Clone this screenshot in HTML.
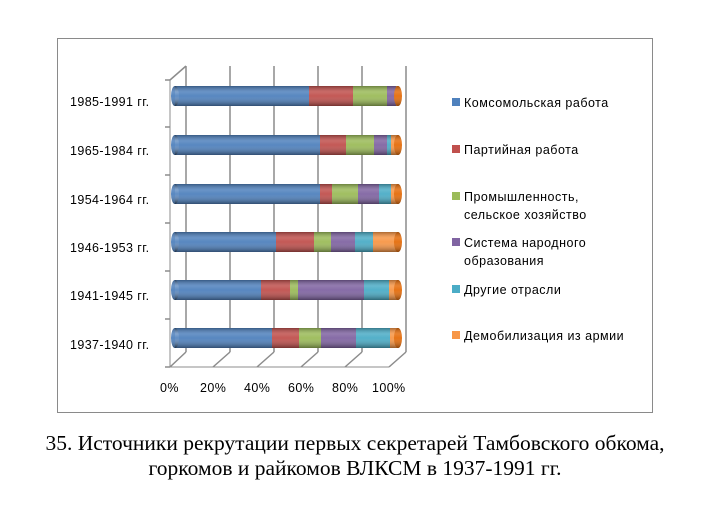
<!DOCTYPE html>
<html><head><meta charset="utf-8"><style>
body{margin:0;background:#fff;width:711px;height:508px;overflow:hidden}
svg{display:block}
text{font-family:"Liberation Sans","DejaVu Sans",sans-serif;font-size:12.5px;fill:#000}
</style></head><body>
<svg width="711" height="508" viewBox="0 0 711 508">
<defs>
<linearGradient id="sh" x1="0" y1="0" x2="0" y2="1">
<stop offset="0" stop-color="#000" stop-opacity="0.3"/>
<stop offset="0.3" stop-color="#fff" stop-opacity="0.15"/>
<stop offset="0.5" stop-color="#fff" stop-opacity="0.05"/>
<stop offset="1" stop-color="#000" stop-opacity="0.4"/>
</linearGradient>
</defs>
<rect x="57.5" y="38.5" width="595" height="374" fill="#fff" stroke="#8a8a8a"/>
<g stroke="#8c8c8c" stroke-width="1.5">
<line x1="186" y1="66" x2="186" y2="352"/>
<line x1="230" y1="66" x2="230" y2="352"/>
<line x1="274" y1="66" x2="274" y2="352"/>
<line x1="318" y1="66" x2="318" y2="352"/>
<line x1="362" y1="66" x2="362" y2="352"/>
<line x1="406" y1="66" x2="406" y2="352"/>
<line x1="170" y1="367" x2="186" y2="352"/>
<line x1="213" y1="367" x2="230" y2="352"/>
<line x1="257" y1="367" x2="274" y2="352"/>
<line x1="301" y1="367" x2="318" y2="352"/>
<line x1="345" y1="367" x2="362" y2="352"/>
<line x1="389" y1="367" x2="406" y2="352"/>
<line x1="170" y1="367" x2="389" y2="367" stroke-width="1"/>
<line x1="170" y1="80" x2="170" y2="367" stroke-width="1"/>
<line x1="170" y1="80" x2="186" y2="66"/>
<line x1="165" y1="80" x2="170" y2="80"/>
<line x1="165" y1="127" x2="170" y2="127"/>
<line x1="165" y1="175" x2="170" y2="175"/>
<line x1="165" y1="223" x2="170" y2="223"/>
<line x1="165" y1="271" x2="170" y2="271"/>
<line x1="165" y1="319" x2="170" y2="319"/>
<line x1="165" y1="367" x2="170" y2="367"/>
</g>
<g id="bars"></g>
<g style="letter-spacing:0.4px">
<text x="70" y="106">1985-1991  гг.</text>
<text x="70" y="155">1965-1984  гг.</text>
<text x="70" y="204">1954-1964  гг.</text>
<text x="70" y="252">1946-1953  гг.</text>
<text x="70" y="300">1941-1945  гг.</text>
<text x="70" y="349">1937-1940  гг.</text>
<text x="160" y="392">0%</text>
<text x="200" y="392">20%</text>
<text x="244" y="392">40%</text>
<text x="288" y="392">60%</text>
<text x="332" y="392">80%</text>
<text x="372" y="392">100%</text>
</g>
<g style="letter-spacing:0.5px">
<rect x="452" y="98" width="8" height="8" fill="#4f81bd"/>
<rect x="452" y="145" width="8" height="8" fill="#c0504d"/>
<rect x="452" y="192" width="8" height="8" fill="#9bbb59"/>
<rect x="452" y="238" width="8" height="8" fill="#8064a2"/>
<rect x="452" y="285" width="8" height="8" fill="#4bacc6"/>
<rect x="452" y="331" width="8" height="8" fill="#f79646"/>
<text x="464" y="107">Комсомольская  работа</text>
<text x="464" y="154">Партийная  работа</text>
<text x="464" y="201">Промышленность,</text>
<text x="464" y="219">сельское хозяйство</text>
<text x="464" y="247">Система  народного</text>
<text x="464" y="265">образования</text>
<text x="464" y="294">Другие  отрасли</text>
<text x="464" y="340">Демобилизация  из  армии</text>
</g>
<text x="355" y="450" text-anchor="middle" style="font-family:'Liberation Serif',serif;font-size:21.5px">35. Источники рекрутации первых секретарей Тамбовского обкома,</text>
<text x="355" y="475" text-anchor="middle" style="font-family:'Liberation Serif',serif;font-size:21.5px">горкомов и райкомов ВЛКСМ в 1937-1991 гг.</text>
</svg>
<script>
const cols=["#4f81bd","#c0504d","#9bbb59","#8064a2","#4bacc6","#f79646"];
const data=[
[96,[309,353,387,396,396]],
[145,[320,346,374,387,391]],
[194,[320,332,358,379,391]],
[242,[276,314,331,355,373]],
[290,[261,290,298,364,389]],
[338,[272,299,321,356,390]]];
let s="";const x0=175,x1=398,h=20;
for(const [cy,b] of data){
 const y=cy-h/2;const bs=[x0,...b,x1];
 s+=`<ellipse cx="${x0}" cy="${cy}" rx="4" ry="${h/2}" fill="#4f81bd"/>`;
 for(let i=0;i<6;i++){const a=bs[i],c=bs[i+1];if(c>a)s+=`<rect x="${a}" y="${y}" width="${c-a}" height="${h}" fill="${cols[i]}"/>`;}
 s+=`<rect x="${x0}" y="${y}" width="${x1-x0}" height="${h}" fill="url(#sh)"/>`;
 s+=`<ellipse cx="${x0}" cy="${cy}" rx="4" ry="${h/2}" fill="url(#sh)"/>`;
 s+=`<ellipse cx="${x1}" cy="${cy}" rx="4" ry="${h/2}" fill="#e46c0a"/>`;
 s+=`<ellipse cx="${x1}" cy="${cy}" rx="4" ry="${h/2}" fill="url(#sh)"/>`;
}
document.getElementById("bars").innerHTML=s;
</script>
</body></html>
